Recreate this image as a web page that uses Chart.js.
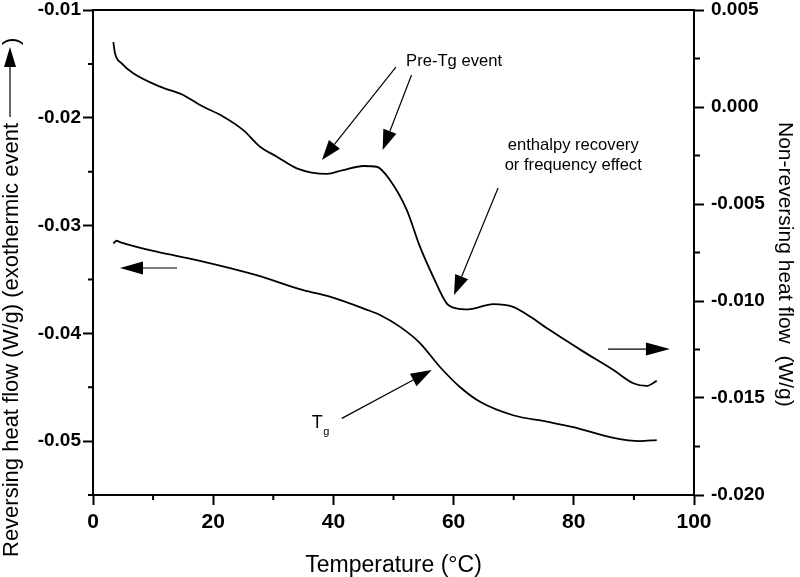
<!DOCTYPE html>
<html>
<head>
<meta charset="utf-8">
<script src="https://cdn.jsdelivr.net/npm/chart.js@4.4.0/dist/chart.umd.min.js"></script>
<style>
  html, body { margin: 0; padding: 0; background: #fff; }
  #wrap { width: 800px; height: 577px; }
</style>
</head>
<body>
<div id="wrap"><canvas id="dsc"></canvas></div>
<script>
// ---------------------
// DATA
// ---------------------
// non-reversing heat flow, right axis (W/g)
const tempNonRev = [3.38, 3.66, 4.77, 6.7, 11.15, 15.0, 17.8, 21.7, 25.0, 27.8, 30.6, 33.9, 38.9, 41.6, 45.0, 47.2,
  49.4, 52.2, 54.4, 56.6, 58.85, 60.5, 62.45, 66.6, 69.9, 72.7, 76.0, 81.6, 86.6, 89.9, 92.1, 93.8];
const nonRevFlow = [0.00334, 0.00277, 0.00225, 0.00174, 0.00105, 0.00062, 0.0001, -0.0005, -0.00119, -0.00205, -0.00256, -0.00316, -0.00345, -0.00325, -0.00304, -0.00308,
  -0.00376, -0.0053, -0.0072, -0.00875, -0.01012, -0.01038, -0.01043, -0.01016, -0.0103, -0.0108, -0.0115, -0.01261, -0.01356, -0.01424, -0.01438, -0.01412];

// reversing heat flow, left axis (W/g)
const tempRev = [3.38, 3.94, 4.49, 10.6, 17.25, 27.2, 35.0, 39.4, 45.5, 47.75, 51.1, 54.4, 57.7, 61.1, 64.4, 69.9, 75.5, 79.9, 86.6, 91.0, 93.8];
const revFlow = [-0.03165, -0.03141, -0.03153, -0.03243, -0.0332, -0.0346, -0.036, -0.0366, -0.0378, -0.0383, -0.0394, -0.0409, -0.0431, -0.045, -0.04635, -0.0476, -0.0482, -0.0487, -0.0497, -0.05, -0.0499];

// axis ranges / tick steps
const xRange = [0, 100];
const xStep = 20;
const leftRange = [-0.055, -0.01];
const leftStep = 0.01;
const rightRange = [-0.020, 0.005];
const rightStep = 0.005;

const FONT = '"Liberation Sans", Arial, Helvetica, sans-serif';

const toPoints = (xs, ys) => xs.map((x, i) => ({ x: x, y: ys[i] }));

function arrow(ctx, x1, y1, x2, y2, len, half) {
  const a = Math.atan2(y2 - y1, x2 - x1);
  const bx = x2 - len * Math.cos(a), by = y2 - len * Math.sin(a);
  ctx.beginPath();
  ctx.moveTo(x1, y1);
  ctx.lineTo(bx, by);
  ctx.stroke();
  ctx.beginPath();
  ctx.moveTo(x2, y2);
  ctx.lineTo(bx + half * Math.sin(a), by - half * Math.cos(a));
  ctx.lineTo(bx - half * Math.sin(a), by + half * Math.cos(a));
  ctx.closePath();
  ctx.fill();
}

// minor ticks, top frame line, axis titles and the hand-drawn annotations
const decorations = {
  id: 'decorations',
  afterDraw(chart) {
    const ctx = chart.ctx;
    const a = chart.chartArea;
    const sx = chart.scales.x, sy = chart.scales.y, sy2 = chart.scales.y2;
    const P = (x, y) => [sx.getPixelForValue(x), sy.getPixelForValue(y)];
    ctx.save();
    ctx.strokeStyle = '#000';
    ctx.fillStyle = '#000';

    // top frame
    ctx.lineWidth = 2;
    ctx.beginPath();
    ctx.moveTo(a.left - 1, a.top);
    ctx.lineTo(a.right + 1, a.top);
    ctx.stroke();

    // minor ticks
    ctx.beginPath();
    for (let v = xRange[0] + xStep / 2; v < xRange[1]; v += xStep) {
      const px = sx.getPixelForValue(v);
      ctx.moveTo(px, a.bottom);
      ctx.lineTo(px, a.bottom + 5);
    }
    for (let v = leftRange[1] - leftStep / 2; v >= leftRange[0] - 1e-9; v -= leftStep) {
      const py = sy.getPixelForValue(v);
      ctx.moveTo(a.left, py);
      ctx.lineTo(a.left - 5, py);
    }
    for (let v = rightRange[1] - rightStep / 2; v > rightRange[0]; v -= rightStep) {
      const py = sy2.getPixelForValue(v);
      ctx.moveTo(a.right, py);
      ctx.lineTo(a.right + 6, py);
    }
    ctx.stroke();

    // x title
    ctx.font = '23px ' + FONT;
    ctx.textAlign = 'center';
    ctx.textBaseline = 'alphabetic';
    ctx.fillText('Temperature (\u00B0C)', (a.left + a.right) / 2, 572);

    // left title with arrow
    ctx.save();
    ctx.translate(18, 557);
    ctx.rotate(-Math.PI / 2);
    ctx.font = '22px ' + FONT;
    ctx.textAlign = 'left';
    const leftTitle = 'Reversing heat flow (W/g) (exothermic event';
    ctx.fillText(leftTitle, 0, 0);
    const w = ctx.measureText(leftTitle).width;
    ctx.lineWidth = 1.2;
    arrow(ctx, w + 6, -8, 510, -8, 20, 6);
    ctx.fillText(')', 512, 0);
    ctx.restore();

    // right title
    ctx.save();
    ctx.translate(779, 122);
    ctx.rotate(Math.PI / 2);
    ctx.font = '21px ' + FONT;
    ctx.textAlign = 'left';
    ctx.fillText('Non-reversing heat flow  (W/g)', 0, 0);
    ctx.restore();

    // annotations
    ctx.lineWidth = 1.2;
    let p, q;
    p = P(50.4, -0.01529); q = P(38.1, -0.02392);
    arrow(ctx, p[0], p[1], q[0], q[1], 20, 7);
    p = P(53.0, -0.01603); q = P(48.2, -0.02299);
    arrow(ctx, p[0], p[1], q[0], q[1], 20, 7);
    p = P(67.4, -0.02652); q = P(60.07, -0.03645);
    arrow(ctx, p[0], p[1], q[0], q[1], 20, 7);
    p = P(13.98, -0.03394); q = P(4.49, -0.03394);
    arrow(ctx, p[0], p[1], q[0], q[1], 23, 6.5);
    p = P(85.7, -0.04146); q = P(96.0, -0.04146);
    arrow(ctx, p[0], p[1], q[0], q[1], 24, 6.5);
    p = P(41.4, -0.04789); q = P(56.36, -0.04341);
    arrow(ctx, p[0], p[1], q[0], q[1], 21, 7);

    ctx.font = '16.6px ' + FONT;
    ctx.textAlign = 'left';
    p = P(52.1, -0.01517);
    ctx.fillText('Pre-Tg event', p[0], p[1]);
    ctx.textAlign = 'center';
    p = P(79.9, -0.02299);
    ctx.fillText('enthalpy recovery', p[0], p[1]);
    p = P(79.9, -0.02485);
    ctx.fillText('or frequency effect', p[0], p[1]);

    ctx.textAlign = 'left';
    ctx.font = '18px ' + FONT;
    p = P(36.39, -0.04882);
    ctx.fillText('T', p[0], p[1]);
    ctx.font = '11px ' + FONT;
    p = P(38.32, -0.04944);
    ctx.fillText('g', p[0], p[1]);

    ctx.restore();
  }
};

const axisCommon = {
  grid: { drawOnChartArea: false, drawTicks: true, tickLength: 10, tickWidth: 2, tickColor: '#000' },
  border: { display: true, color: '#000', width: 2 }
};

function fixY(width) {
  return (scale) => {
    scale.width = width;
    scale.paddingTop = 0;
    scale.paddingBottom = 0;
  };
}

new Chart(document.getElementById('dsc'), {
  type: 'line',
  data: {
    datasets: [
      {
        label: 'Reversing heat flow',
        data: toPoints(tempRev, revFlow),
        yAxisID: 'y',
        borderColor: '#000',
        borderWidth: 1.8,
        pointRadius: 0,
        cubicInterpolationMode: 'monotone',
        fill: false
      },
      {
        label: 'Non-reversing heat flow',
        data: toPoints(tempNonRev, nonRevFlow),
        yAxisID: 'y2',
        borderColor: '#000',
        borderWidth: 1.8,
        pointRadius: 0,
        cubicInterpolationMode: 'monotone',
        fill: false
      }
    ]
  },
  options: {
    responsive: true,
    maintainAspectRatio: false,
    animation: false,
    layout: { padding: { top: 10, left: 0, right: 0, bottom: 0 } },
    plugins: {
      legend: { display: false },
      tooltip: { enabled: false }
    },
    scales: {
      x: {
        type: 'linear',
        position: 'bottom',
        min: xRange[0],
        max: xRange[1],
        ...axisCommon,
        ticks: {
          stepSize: xStep,
          color: '#000',
          padding: 7,
          maxRotation: 0,
          font: { family: FONT, size: 21, weight: 'bold', lineHeight: 1 }
        },
        afterFit(scale) {
          scale.height = 82;
          scale.paddingLeft = 0;
          scale.paddingRight = 0;
        }
      },
      y: {
        type: 'linear',
        position: 'left',
        min: leftRange[0],
        max: leftRange[1],
        ...axisCommon,
        ticks: {
          stepSize: leftStep,
          includeBounds: false,
          color: '#000',
          padding: 2,
          font: { family: FONT, size: 19, weight: 'bold', lineHeight: 1 },
          callback: (v) => v.toFixed(2)
        },
        afterFit: fixY(93)
      },
      y2: {
        type: 'linear',
        position: 'right',
        min: rightRange[0],
        max: rightRange[1],
        ...axisCommon,
        ticks: {
          stepSize: rightStep,
          includeBounds: false,
          color: '#000',
          padding: 7,
          font: { family: FONT, size: 19, weight: 'bold', lineHeight: 1 },
          callback: (v) => v.toFixed(3)
        },
        afterFit: fixY(106)
      }
    }
  },
  plugins: [decorations]
});
</script>
</body>
</html>
